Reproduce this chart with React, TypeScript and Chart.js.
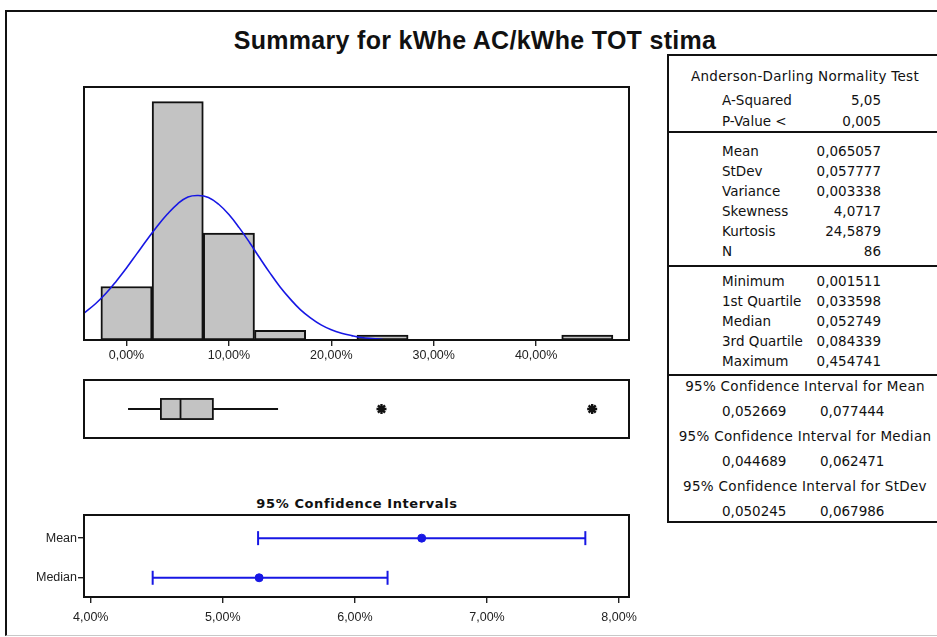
import React, { useEffect, useRef } from 'react';
import { Chart, registerables } from 'chart.js';

Chart.register(...registerables);

// ---------- data ----------
const TITLE = 'Summary for kWhe AC/kWhe TOT stima';

const BIN_CENTERS = [0, 0.05, 0.1, 0.15, 0.2, 0.25, 0.3, 0.35, 0.4, 0.45];
const BIN_COUNTS = [11, 49, 22, 2, 0, 1, 0, 0, 0, 1];

const CURVE_X = [-0.0415, -0.03, -0.02, -0.01, 0, 0.01, 0.02, 0.03, 0.04, 0.05, 0.06, 0.07, 0.08, 0.09, 0.1, 0.11, 0.12, 0.13, 0.14, 0.15, 0.16, 0.17, 0.18, 0.19, 0.2, 0.21, 0.22, 0.23, 0.24, 0.25];
const CURVE_Y = [5.5, 7.5, 9.6, 12.1, 14.8, 17.7, 20.6, 23.4, 25.9, 28.0, 29.4, 29.7, 29.3, 27.9, 25.8, 23.1, 20.1, 16.9, 13.8, 10.9, 8.4, 6.2, 4.5, 3.1, 2.1, 1.4, 0.9, 0.5, 0.3, 0.15];

const HIST_TICKS = [0, 0.1, 0.2, 0.3, 0.4];
const HIST_MIN = -0.0415;
const HIST_MAX = 0.4907;
const HIST_YMAX = 52;

const BOX_LOW = 0.001511;
const BOX_Q1 = 0.033598;
const BOX_MEDIAN = 0.052749;
const BOX_Q3 = 0.084339;
const BOX_HIGH = 0.148;
const OUTLIERS = [0.249, 0.454741];

const CI_TITLE = '95% Confidence Intervals';
const CI_LABELS = ['Mean', 'Median'];
const CI_CENTER = [0.065057, 0.052749];
const CI_LOW = [0.052669, 0.044689];
const CI_HIGH = [0.077444, 0.062471];
const CI_TICKS = [0.04, 0.05, 0.06, 0.07, 0.08];
const CI_MIN = 0.03949;
const CI_MAX = 0.08075;

const AD_HEADER = 'Anderson-Darling Normality Test';
const AD_LABELS = ['A-Squared', 'P-Value <'];
const AD_VALUES = ['5,05', '0,005'];
const STAT_LABELS = ['Mean', 'StDev', 'Variance', 'Skewness', 'Kurtosis', 'N'];
const STAT_VALUES = ['0,065057', '0,057777', '0,003338', '4,0717', '24,5879', '86'];
const QUANT_LABELS = ['Minimum', '1st Quartile', 'Median', '3rd Quartile', 'Maximum'];
const QUANT_VALUES = ['0,001511', '0,033598', '0,052749', '0,084339', '0,454741'];
const CI_HEADERS = ['95% Confidence Interval for Mean', '95% Confidence Interval for Median', '95% Confidence Interval for StDev'];
const CI_TABLE_LOW = ['0,052669', '0,044689', '0,050245'];
const CI_TABLE_HIGH = ['0,077444', '0,062471', '0,067986'];

// ---------- styles ----------
const BLUE = '#1717e4';
const GRAY = '#c3c3c3';
const INK = '#111';
const TICK_FONT = { family: "'Liberation Sans', Arial, sans-serif", size: 12.5 };

const pct = (v: number) => (v * 100).toFixed(2).replace('.', ',') + '%';

const framePlugin = {
  id: 'frame',
  afterDraw(chart: any) {
    const { ctx, chartArea: a } = chart;
    ctx.save();
    ctx.strokeStyle = INK;
    ctx.lineWidth = 2;
    ctx.strokeRect(a.left, a.top, a.right - a.left, a.bottom - a.top);
    ctx.restore();
  },
};

const boxPlugin = {
  id: 'boxdraw',
  afterDatasetsDraw(chart: any) {
    const { ctx } = chart;
    const xs = chart.scales.x;
    const ys = chart.scales.y;
    const x1 = xs.getPixelForValue(BOX_Q1);
    const x2 = xs.getPixelForValue(BOX_Q3);
    const xm = xs.getPixelForValue(BOX_MEDIAN);
    const yt = ys.getPixelForValue(0.347);
    const yb = ys.getPixelForValue(-0.347);
    ctx.save();
    ctx.fillStyle = GRAY;
    ctx.fillRect(x1, yt, x2 - x1, yb - yt);
    ctx.strokeStyle = INK;
    ctx.lineWidth = 1.8;
    ctx.strokeRect(x1, yt, x2 - x1, yb - yt);
    ctx.beginPath();
    ctx.moveTo(xm, yt);
    ctx.lineTo(xm, yb);
    ctx.stroke();
    ctx.restore();
  },
};

const tickGrid = (len: number) => ({
  display: true,
  drawOnChartArea: false,
  drawTicks: true,
  tickLength: len,
  color: '#222',
  lineWidth: 1.4,
  offset: false,
});

export default function App() {
  const histRef = useRef<HTMLCanvasElement>(null);
  const boxRef = useRef<HTMLCanvasElement>(null);
  const ciRef = useRef<HTMLCanvasElement>(null);

  useEffect(() => {
    const charts: Chart[] = [];

    charts.push(
      new Chart(histRef.current as HTMLCanvasElement, {
        type: 'bar',
        data: {
          datasets: [
            {
              type: 'line',
              data: CURVE_X.map((x, i) => ({ x, y: CURVE_Y[i] })),
              borderColor: BLUE,
              borderWidth: 1.6,
              pointRadius: 0,
              tension: 0.4,
              fill: false,
            } as any,
            {
              type: 'bar',
              data: BIN_CENTERS.map((x, i) => ({ x, y: BIN_COUNTS[i] })),
              backgroundColor: GRAY,
              borderColor: INK,
              borderWidth: 2,
              borderSkipped: false,
              barPercentage: 1,
              categoryPercentage: 1,
            } as any,
          ],
        },
        options: {
          animation: false,
          responsive: false,
          maintainAspectRatio: false,
          layout: { padding: { left: 24, right: 31, top: 7, bottom: 0 } },
          plugins: { legend: { display: false }, tooltip: { enabled: false } },
          scales: {
            x: {
              type: 'linear',
              min: HIST_MIN,
              max: HIST_MAX,
              offset: false,
              afterBuildTicks: (s: any) => {
                s.ticks = HIST_TICKS.map((v) => ({ value: v }));
              },
              afterFit: (s: any) => {
                s.height = 40;
              },
              grid: tickGrid(6),
              border: { display: false },
              ticks: {
                padding: 2,
                font: TICK_FONT,
                color: '#222',
                maxRotation: 0,
                autoSkip: false,
                callback: (v: any) => pct(Number(v)),
              },
            },
            y: { display: false, min: 0, max: HIST_YMAX },
          },
        } as any,
        plugins: [framePlugin],
      })
    );

    charts.push(
      new Chart(boxRef.current as HTMLCanvasElement, {
        type: 'scatter',
        data: {
          datasets: [
            {
              data: [
                { x: BOX_LOW, y: 0 },
                { x: BOX_Q1, y: 0 },
              ],
              showLine: true,
              borderColor: INK,
              borderWidth: 1.8,
              pointRadius: 0,
            },
            {
              data: [
                { x: BOX_Q3, y: 0 },
                { x: BOX_HIGH, y: 0 },
              ],
              showLine: true,
              borderColor: INK,
              borderWidth: 1.8,
              pointRadius: 0,
            },
            {
              data: OUTLIERS.map((x) => ({ x, y: 0 })),
              pointStyle: 'star',
              pointRadius: 5,
              pointBorderWidth: 2.4,
              pointBorderColor: INK,
              pointBackgroundColor: INK,
              showLine: false,
            },
          ],
        },
        options: {
          animation: false,
          responsive: false,
          maintainAspectRatio: false,
          layout: { padding: { left: 24, right: 31, top: 10, bottom: 12 } },
          plugins: { legend: { display: false }, tooltip: { enabled: false } },
          scales: {
            x: { type: 'linear', min: HIST_MIN, max: HIST_MAX, display: false },
            y: { type: 'linear', min: -1, max: 1, display: false },
          },
        } as any,
        plugins: [boxPlugin, framePlugin],
      })
    );

    const ciDatasets: any[] = [];
    CI_LABELS.forEach((_, i) => {
      const yv = CI_LABELS.length - 1 - i;
      ciDatasets.push({
        data: [
          { x: CI_LOW[i], y: yv },
          { x: CI_HIGH[i], y: yv },
        ],
        showLine: true,
        borderColor: BLUE,
        borderWidth: 2,
        pointStyle: 'line',
        pointRotation: 90,
        pointRadius: 7,
        pointBorderColor: BLUE,
        pointBorderWidth: 2,
      });
      ciDatasets.push({
        data: [{ x: CI_CENTER[i], y: yv }],
        showLine: false,
        pointStyle: 'circle',
        pointRadius: 4,
        pointBackgroundColor: BLUE,
        pointBorderColor: BLUE,
        pointBorderWidth: 1,
      });
    });

    charts.push(
      new Chart(ciRef.current as HTMLCanvasElement, {
        type: 'scatter',
        data: { datasets: ciDatasets },
        options: {
          animation: false,
          responsive: false,
          maintainAspectRatio: false,
          layout: { padding: { left: 0, right: 31, top: 10, bottom: 0 } },
          plugins: { legend: { display: false }, tooltip: { enabled: false } },
          scales: {
            x: {
              type: 'linear',
              min: CI_MIN,
              max: CI_MAX,
              afterBuildTicks: (s: any) => {
                s.ticks = CI_TICKS.map((v) => ({ value: v }));
              },
              afterFit: (s: any) => {
                s.height = 33;
              },
              grid: tickGrid(6),
              border: { display: false },
              ticks: {
                padding: 7,
                font: TICK_FONT,
                color: '#222',
                maxRotation: 0,
                autoSkip: false,
                callback: (v: any) => pct(Number(v)),
              },
            },
            y: {
              type: 'linear',
              min: -0.485,
              max: 1.584,
              afterBuildTicks: (s: any) => {
                s.ticks = CI_LABELS.map((_, i) => ({ value: CI_LABELS.length - 1 - i }));
              },
              afterFit: (s: any) => {
                s.width = 84;
              },
              grid: tickGrid(6),
              border: { display: false },
              ticks: {
                padding: 1,
                font: TICK_FONT,
                color: '#222',
                autoSkip: false,
                callback: (v: any) => {
                  const idx = CI_LABELS.length - 1 - Number(v);
                  return CI_LABELS[idx] ?? '';
                },
              },
            },
          },
        } as any,
        plugins: [framePlugin],
      })
    );

    return () => charts.forEach((c) => c.destroy());
  }, []);

  const tableFont: React.CSSProperties = {
    fontFamily: "'DejaVu Sans', Verdana, sans-serif",
    fontSize: 13.5,
    color: INK,
    lineHeight: '18px',
    whiteSpace: 'nowrap',
    position: 'absolute',
    height: 18,
  };
  const leftText = (text: string, y: number, x = 722) => (
    <div key={text + y + x} style={{ ...tableFont, left: x, top: y - 9 }}>
      {text}
    </div>
  );
  const rightText = (text: string, y: number) => (
    <div key={'r' + text + y} style={{ ...tableFont, left: 731, width: 150, top: y - 9, textAlign: 'right' }}>
      {text}
    </div>
  );
  const centerText = (text: string, y: number) => (
    <div key={'c' + text + y} style={{ ...tableFont, left: 668, width: 274, top: y - 9, textAlign: 'center', letterSpacing: 0.3 }}>
      {text}
    </div>
  );
  const divider = (y: number) => (
    <div key={'d' + y} style={{ position: 'absolute', left: 668, width: 274, top: y - 1, height: 2, background: INK }} />
  );

  const els: React.ReactNode[] = [];
  els.push(centerText(AD_HEADER, 76));
  AD_LABELS.forEach((l, i) => {
    els.push(leftText(l, 100 + i * 21));
    els.push(rightText(AD_VALUES[i], 100 + i * 21));
  });
  els.push(divider(132));
  STAT_LABELS.forEach((l, i) => {
    els.push(leftText(l, 151 + i * 20));
    els.push(rightText(STAT_VALUES[i], 151 + i * 20));
  });
  els.push(divider(266));
  QUANT_LABELS.forEach((l, i) => {
    els.push(leftText(l, 281 + i * 20));
    els.push(rightText(QUANT_VALUES[i], 281 + i * 20));
  });
  els.push(divider(375));
  CI_HEADERS.forEach((h, i) => {
    els.push(centerText(h, 386 + i * 50));
    els.push(leftText(CI_TABLE_LOW[i], 411 + i * 50, 722));
    els.push(leftText(CI_TABLE_HIGH[i], 411 + i * 50, 820));
  });

  return (
    <div
      style={{
        position: 'absolute',
        left: 0,
        top: 0,
        width: 937,
        height: 637,
        background: '#fff',
        overflow: 'hidden',
      }}
    >
      <div
        style={{
          position: 'absolute',
          left: 5,
          top: 10,
          width: 950,
          height: 626,
          boxSizing: 'border-box',
          borderLeft: '2px solid #111',
          borderTop: '2px solid #111',
          borderBottom: '1px solid #c8c8c8',
        }}
      />
      <div
        style={{
          position: 'absolute',
          left: 175,
          width: 600,
          top: 24,
          textAlign: 'center',
          fontFamily: "'Liberation Sans', Arial, sans-serif",
          fontWeight: 'bold',
          fontSize: 25,
          letterSpacing: 0.3,
          lineHeight: '32px',
          color: INK,
        }}
      >
        {TITLE}
      </div>
      <canvas ref={histRef} width={600} height={300} style={{ position: 'absolute', left: 60, top: 80 }} />
      <canvas ref={boxRef} width={600} height={80} style={{ position: 'absolute', left: 60, top: 370 }} />
      <div
        style={{
          position: 'absolute',
          left: 157,
          width: 400,
          top: 495,
          textAlign: 'center',
          fontFamily: "'DejaVu Sans', Verdana, sans-serif",
          fontWeight: 'bold',
          fontSize: 13,
          letterSpacing: 0.6,
          lineHeight: '18px',
          color: INK,
        }}
      >
        {CI_TITLE}
      </div>
      <canvas ref={ciRef} width={660} height={125} style={{ position: 'absolute', left: 0, top: 505 }} />
      <div
        style={{
          position: 'absolute',
          left: 667,
          top: 54,
          width: 280,
          height: 469,
          boxSizing: 'border-box',
          border: '2px solid #111',
        }}
      />
      {els}
    </div>
  );
}
